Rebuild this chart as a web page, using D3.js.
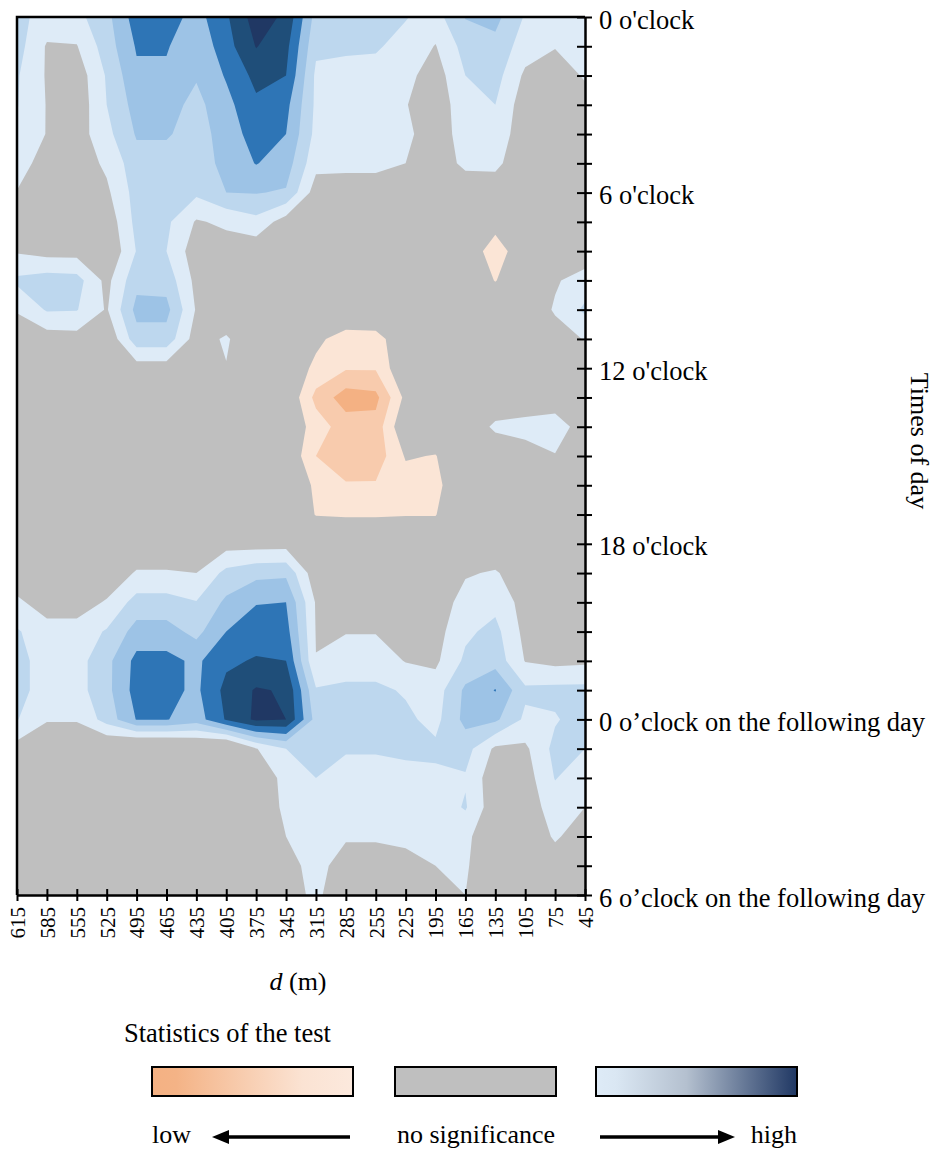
<!DOCTYPE html>
<html>
<head>
<meta charset="utf-8">
<script src="https://cdn.jsdelivr.net/npm/d3@7"></script>
<style>
  body { margin: 0; background: #fff; }
  svg text { font-family: "Liberation Serif", "Times New Roman", serif; fill: #000; }
</style>
</head>
<body>
<div id="chart"></div>
<script>
// distance classes (m), left to right
const distances = [615, 585, 555, 525, 495, 465, 435, 405, 375, 345, 315, 285, 255, 225, 195, 165, 135, 105, 75, 45];
// hours on the y axis (0 = midnight, 30 = 6 o'clock next day)
const hours = [0, 1, 2, 3, 4, 5, 6, 7, 8, 9, 10, 11, 12, 13, 14, 15, 16, 17, 18, 19, 20, 21, 22, 23, 24, 25, 26, 27, 28, 29, 30];
const majorHours = [0, 6, 12, 18, 24, 30];
const majorLabels = ["0 o'clock", "6 o'clock", "12 o'clock", "18 o'clock",
  "0 o\u2019clock on the following day", "6 o\u2019clock on the following day"];

// test statistic, one row per hour, one column per distance
const statistic = [
  [2.3, 1.6, 1.7, 2.7, 4.5, 4.5, 3.6, 4.85, 6.5, 5.8, 2.6, 2.5, 2.4, 2.05, 1.6, 3.05, 3.3, 1.9, 1.5, 1.4],
  [2.4, 0.9, 0.95, 2.5, 4.1, 4.1, 3.2, 4.6, 6.05, 5.3, 2.2, 2.1, 2.1, 1.7, 0.95, 2.4, 2.7, 1.5, 1.05, 1.3],
  [2.1, 0.9, 0.4, 2.1, 3.8, 3.8, 3.1, 4.1, 5.3, 5.0, 1.8, 1.8, 1.7, 1.3, 0.5, 2.0, 2.4, 0.8, 0.5, 1.1],
  [2.05, 0.95, 0.3, 2.0, 3.4, 3.4, 2.7, 3.7, 4.8, 4.3, 1.8, 1.8, 1.7, 1.05, 0.4, 1.6, 2.0, 0.4, 0.3, 0.6],
  [1.9, 0.95, 0.5, 1.7, 3.1, 3.1, 2.6, 3.4, 4.5, 4.0, 1.7, 1.7, 1.6, 1.2, 0.5, 1.4, 1.6, 0.4, 0.3, 0.3],
  [1.3, 0.7, 0.4, 1.2, 2.6, 2.6, 2.5, 3.3, 4.05, 3.5, 1.3, 1.3, 1.3, 1.0, 0.5, 1.2, 1.2, 0.4, 0.3, 0.3],
  [0.97, 0.4, 0.3, 0.8, 2.4, 2.4, 2.2, 3.0, 3.05, 2.9, 0.5, 0.4, 0.4, 0.3, 0.3, 0.4, 0.5, 0.3, 0.3, 0.3],
  [0.4, 0.3, 0.3, 0.3, 2.3, 2.2, 0.9, 1.2, 1.7, 0.5, 0.3, 0.3, 0.3, 0.3, 0.3, 0.3, -0.6, 0.3, 0.3, 0.3],
  [0.9, 0.6, 0.6, 0.0, 2.05, 2.0, 0.4, 0.5, 0.3, 0.2, 0.3, 0.3, 0.3, 0.3, 0.3, -0.3, -1.5, -0.3, 0.3, 0.4],
  [2.2, 2.5, 2.4, 0.7, 2.7, 2.6, 0.7, 0.3, 0.3, 0.3, 0.3, 0.3, 0.3, 0.3, 0.3, 0.0, -1.05, 0.0, 0.9, 1.4],
  [1.1, 2.1, 2.05, 0.9, 3.3, 3.3, 0.9, 0.0, 0.3, 0.3, 0.3, 0.3, 0.3, 0.3, 0.3, 0.3, 0.0, 0.3, 1.1, 2.2],
  [0.3, 0.5, 0.6, 0.1, 2.6, 2.6, 0.5, 1.15, 0.0, 0.1, -0.7, -1.6, -1.5, 0.0, 0.2, 0.3, 0.3, 0.3, 0.6, 1.05],
  [0.2, 0.2, 0.2, 0.2, 0.5, 0.5, 0.2, 0.95, 0.2, 0.0, -1.3, -1.9, -1.9, 0.0, 0.2, 0.3, 0.3, 0.3, 0.3, 0.3],
  [0.3, 0.3, 0.3, 0.3, 0.3, 0.3, 0.3, 0.3, 0.3, 0.0, -2.3, -3.5, -3.3, -0.7, 0.2, 0.3, 0.2, 0.2, 0.4, 0.3],
  [0.3, 0.3, 0.3, 0.3, 0.3, 0.3, 0.3, 0.3, 0.3, 0.0, -1.5, -2.5, -2.6, 0.0, 0.0, 0.2, 1.2, 1.4, 1.5, 0.5],
  [0.3, 0.3, 0.3, 0.3, 0.3, 0.3, 0.3, 0.3, 0.3, 0.0, -2.0, -2.7, -2.6, -0.9, -1.05, 0.1, 0.2, 0.5, 0.95, 0.3],
  [0.3, 0.3, 0.3, 0.3, 0.3, 0.3, 0.3, 0.3, 0.3, 0.0, -1.2, -1.9, -1.9, -1.5, -1.4, 0.3, 0.3, 0.3, 0.3, 0.3],
  [0.3, 0.3, 0.3, 0.3, 0.3, 0.3, 0.3, 0.0, 0.0, 0.0, -1.05, -1.1, -1.1, -1.05, -1.05, 0.3, 0.3, 0.3, 0.3, 0.3],
  [0.2, 0.2, 0.2, 0.2, 0.2, 0.2, 0.2, 0.6, 0.6, 0.6, 0.1, 0.0, 0.0, 0.0, 0.0, 0.2, 0.2, 0.2, 0.2, 0.2],
  [0.3, 0.0, 0.0, 0.3, 1.1, 1.1, 1.0, 2.3, 2.7, 2.8, 0.3, 0.2, 0.2, 0.2, 0.2, 0.9, 1.1, 0.4, 0.3, 0.3],
  [1.2, 0.5, 0.5, 1.1, 2.4, 2.4, 2.05, 3.2, 3.95, 4.0, 0.9, 0.3, 0.3, 0.2, 0.4, 1.4, 1.7, 0.6, 0.3, 0.3],
  [2.1, 1.4, 1.4, 2.1, 3.4, 3.4, 2.7, 4.0, 4.5, 4.4, 0.95, 0.95, 0.95, 0.2, 0.6, 1.8, 2.3, 0.7, 0.3, 0.3],
  [2.3, 1.6, 1.6, 2.7, 4.3, 4.3, 3.8, 4.8, 5.1, 5.0, 1.02, 1.5, 1.5, 0.95, 0.8, 2.2, 2.6, 0.95, 0.7, 0.8],
  [2.3, 1.6, 1.6, 2.7, 4.4, 4.3, 3.8, 5.3, 6.1, 5.9, 2.1, 2.2, 2.2, 1.9, 1.5, 3.2, 4.05, 2.2, 2.3, 2.3],
  [2.05, 1.1, 1.1, 2.4, 4.05, 4.05, 3.5, 5.1, 6.2, 6.0, 2.6, 2.4, 2.4, 2.2, 1.7, 3.3, 3.2, 1.8, 1.9, 2.5],
  [0.6, 0.0, 0.0, -0.2, -0.9, -0.9, -0.5, -0.9, 0.95, 2.0, 2.6, 2.1, 2.1, 2.2, 2.2, 2.4, 0.8, 0.8, 2.3, 2.0],
  [0.2, 0.0, 0.0, 0.0, 0.0, 0.0, 0.0, 0.0, 0.3, 1.3, 2.0, 1.6, 1.6, 1.7, 1.8, 1.9, 0.3, 0.5, 2.05, 1.4],
  [0.2, 0.2, 0.2, 0.2, 0.2, 0.2, 0.2, 0.2, 0.3, 1.2, 1.6, 1.4, 1.4, 1.4, 1.4, 2.1, 0.3, 0.4, 1.5, 1.0],
  [0.2, 0.2, 0.2, 0.2, 0.2, 0.2, 0.2, 0.2, 0.3, 1.0, 1.5, 1.1, 1.1, 1.2, 1.3, 1.2, 0.3, 0.4, 1.1, 0.6],
  [0.2, 0.2, 0.2, 0.2, 0.2, 0.2, 0.2, 0.2, 0.3, 0.7, 1.3, 0.6, 0.6, 0.7, 1.0, 1.1, 0.3, 0.4, 0.6, 0.4],
  [0.2, 0.2, 0.2, 0.2, 0.2, 0.2, 0.2, 0.2, 0.3, 0.6, 1.2, 0.3, 0.2, 0.3, 0.6, 1.0, 0.3, 0.3, 0.3, 0.3]
];

// contour bands: below first threshold uses lowColor
const thresholds = [-3, -2, -1, 1, 2, 3, 4, 5, 6];
const lowColor = '#F4B183';
const bandColors = ['#F8CBAD', '#FBE5D6', '#BFBFBF', '#DEEBF7', '#BDD7EE', '#9DC3E6', '#2E75B6', '#1F4E79', '#203864'];

const width = 935, height = 1151;
const margin = { top: 17, left: 17, right: 350, bottom: 256 };
const plotW = width - margin.left - margin.right;
const plotH = height - margin.top - margin.bottom;

const svg = d3.select('#chart').append('svg')
  .attr('width', width)
  .attr('height', height);

const x = d3.scaleLinear().domain([615, 45]).range([margin.left, margin.left + plotW]);
const y = d3.scaleLinear().domain([0, 30]).range([margin.top, margin.top + plotH]);

// grid index -> data coordinate (d3.contours puts sample i at i + 0.5)
const colToDist = d3.scaleLinear().domain([0.5, distances.length - 0.5]).range([distances[0], distances[distances.length - 1]]);
const rowToHour = d3.scaleLinear().domain([0.5, hours.length - 0.5]).range([hours[0], hours[hours.length - 1]]);
const toPixel = d3.geoTransform({
  point(u, v) { this.stream.point(x(colToDist(u)), y(rowToHour(v))); }
});
const path = d3.geoPath(toPixel);

svg.append('clipPath').attr('id', 'plot-clip')
  .append('rect')
  .attr('x', margin.left).attr('y', margin.top)
  .attr('width', plotW).attr('height', plotH);

const plotG = svg.append('g').attr('clip-path', 'url(#plot-clip)');

plotG.append('rect')
  .attr('x', margin.left).attr('y', margin.top)
  .attr('width', plotW).attr('height', plotH)
  .attr('fill', lowColor);

const contours = d3.contours()
  .size([distances.length, hours.length])
  .thresholds(thresholds)(statistic.flat());

plotG.selectAll('path.band').data(contours)
  .join('path')
  .attr('class', 'band')
  .attr('d', path)
  .attr('fill', (d, i) => bandColors[i]);

// frame: top and left edges
svg.append('path')
  .attr('d', `M${margin.left},${margin.top + plotH}V${margin.top}H${margin.left + plotW}`)
  .attr('fill', 'none').attr('stroke', '#000').attr('stroke-width', 2.5);

// right axis (times of day)
const yAxis = d3.axisRight(y)
  .tickValues(hours)
  .tickSizeInner(7).tickSizeOuter(0).tickPadding(7)
  .tickFormat(h => {
    const k = majorHours.indexOf(h);
    return k >= 0 ? majorLabels[k] : '';
  });
const yG = svg.append('g')
  .attr('transform', `translate(${margin.left + plotW},0)`)
  .call(yAxis);
yG.select('.domain').attr('stroke-width', 2.5);
yG.selectAll('.tick line').attr('x1', -8).attr('stroke-width', 2);
yG.selectAll('.tick text')
  .attr('font-size', 26.5)
  .attr('font-family', '"Liberation Serif", "Times New Roman", serif')
  .attr('dy', '0.42em');

// bottom axis (distance)
const xAxis = d3.axisBottom(x)
  .tickValues(distances)
  .tickSizeInner(6).tickSizeOuter(0);
const xG = svg.append('g')
  .attr('transform', `translate(0,${margin.top + plotH})`)
  .call(xAxis);
xG.select('.domain').attr('stroke-width', 2.5);
xG.selectAll('.tick line').attr('y1', -6).attr('stroke-width', 2);
xG.selectAll('.tick text')
  .attr('font-size', 21)
  .attr('font-family', '"Liberation Serif", "Times New Roman", serif')
  .attr('transform', 'rotate(-90)')
  .attr('x', -12).attr('y', 0)
  .attr('dy', '0.35em')
  .style('text-anchor', 'end');

// axis titles
const xTitle = svg.append('text')
  .attr('x', 298).attr('y', 990)
  .attr('text-anchor', 'middle')
  .attr('font-size', 26);
xTitle.append('tspan').attr('font-style', 'italic').text('d');
xTitle.append('tspan').text(' (m)');

svg.append('text')
  .attr('transform', 'translate(911,441) rotate(90)')
  .attr('text-anchor', 'middle')
  .attr('font-size', 26)
  .text('Times of day');

// legend
const defs = svg.append('defs');
const orangeGrad = defs.append('linearGradient').attr('id', 'grad-low');
orangeGrad.selectAll('stop')
  .data([[0, '#F4B183'], [0.12, '#F4B386'], [0.75, '#FBE3D3'], [1, '#FCE9DD']])
  .join('stop')
  .attr('offset', d => d[0]).attr('stop-color', d => d[1]);
const blueGrad = defs.append('linearGradient').attr('id', 'grad-high');
blueGrad.selectAll('stop')
  .data([[0, '#DEEBF7'], [0.1, '#DAE7F3'], [0.45, '#B4C0CF'], [1, '#203864']])
  .join('stop')
  .attr('offset', d => d[0]).attr('stop-color', d => d[1]);

svg.append('text')
  .attr('x', 124).attr('y', 1042)
  .attr('font-size', 26.5)
  .text('Statistics of the test');

const legendBoxes = [
  { x0: 152, x1: 353, fill: 'url(#grad-low)' },
  { x0: 395, x1: 556, fill: '#BFBFBF' },
  { x0: 596, x1: 797, fill: 'url(#grad-high)' }
];
svg.selectAll('rect.legend-box').data(legendBoxes)
  .join('rect')
  .attr('class', 'legend-box')
  .attr('x', d => d.x0).attr('y', 1067)
  .attr('width', d => d.x1 - d.x0).attr('height', 29)
  .attr('fill', d => d.fill)
  .attr('stroke', '#000').attr('stroke-width', 2);

svg.append('text').attr('x', 152).attr('y', 1143).attr('font-size', 26).text('low');
svg.append('text').attr('x', 476).attr('y', 1143).attr('font-size', 26)
  .attr('text-anchor', 'middle').text('no significance');
svg.append('text').attr('x', 797).attr('y', 1143).attr('font-size', 26)
  .attr('text-anchor', 'end').text('high');

// arrows
const arrowY = 1137;
svg.append('line').attr('x1', 350).attr('x2', 225).attr('y1', arrowY).attr('y2', arrowY)
  .attr('stroke', '#000').attr('stroke-width', 3.5);
svg.append('path').attr('d', `M212,${arrowY}L229,${arrowY - 7}L229,${arrowY + 7}Z`).attr('fill', '#000');
svg.append('line').attr('x1', 600).attr('x2', 722).attr('y1', arrowY).attr('y2', arrowY)
  .attr('stroke', '#000').attr('stroke-width', 3.5);
svg.append('path').attr('d', `M735,${arrowY}L718,${arrowY - 7}L718,${arrowY + 7}Z`).attr('fill', '#000');
</script>
</body>
</html>
